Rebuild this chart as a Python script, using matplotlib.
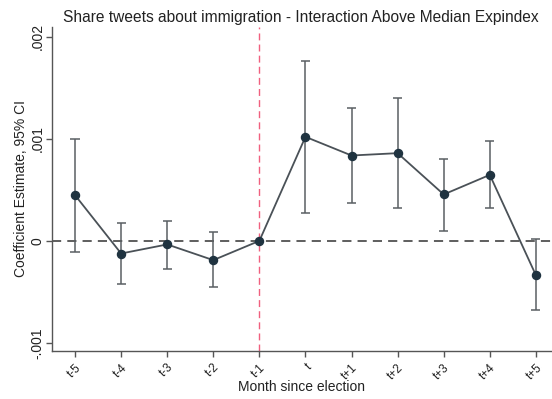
import matplotlib
matplotlib.use("Agg")
import matplotlib.pyplot as plt
import numpy as np

plt.rcParams['font.family'] = ['Liberation Sans', 'DejaVu Sans']

# Event-study coefficients by month relative to the election
months = ["t-5", "t-4", "t-3", "t-2", "t-1", "t", "t+1", "t+2", "t+3", "t+4", "t+5"]
coef = [0.000448, -0.000124, -0.000035, -0.000189, 0.0, 0.00102, 0.000837, 0.00086, 0.000455, 0.000647, -0.000336]
ci_low = [-0.000108, -0.000425, -0.00028, -0.000454, np.nan, 0.000269, 0.000373, 0.000324, 0.000098, 0.000324, -0.00068]
ci_high = [0.000997, 0.000171, 0.000193, 0.000082, np.nan, 0.00176, 0.0013, 0.0014, 0.000798, 0.000975, 0.000014]
yticks = [-0.001, 0, 0.001, 0.002]
ytick_labels = ["-.001", "0", ".001", ".002"]

x = np.arange(len(months))
coef = np.array(coef)
lo = np.array(ci_low)
hi = np.array(ci_high)

fig = plt.figure(figsize=(5.52, 3.99), dpi=100)
ax = fig.add_axes([52/552, 1-351/399, 1-52/552, (351-26.7)/399])

# reference lines
ax.axhline(0, color="#333333", lw=1.1, ls=(0, (6, 4)), zorder=1)
ax.axvline(4, color="#f0607f", lw=1.0, ls=(0, (5, 3)), zorder=1)

# confidence intervals
mask = ~np.isnan(lo)
ax.vlines(x[mask], lo[mask], hi[mask], color="#5a5f63", lw=1.1, zorder=2)
ax.hlines(lo[mask], x[mask]-0.1, x[mask]+0.1, color="#5a5f63", lw=1.1, zorder=2)
ax.hlines(hi[mask], x[mask]-0.1, x[mask]+0.1, color="#5a5f63", lw=1.1, zorder=2)

# point estimates
ax.plot(x, coef, color="#4a5157", lw=1.3, marker="o", ms=5.8,
        mfc="#1f3340", mec="#1f3340", zorder=3)

ax.set_xlim(-0.5, 10.35)
ax.set_ylim(-0.00108, 0.0021)
ax.set_yticks(yticks)
ax.set_yticklabels(ytick_labels, rotation=90, va="center", fontsize=10)
ax.set_xticks(x)
ax.set_xticklabels(months, rotation=45, ha="right", va="top", rotation_mode="anchor", fontsize=8.5)

for s in ["top", "right"]:
    ax.spines[s].set_visible(False)
for s in ["left", "bottom"]:
    ax.spines[s].set_color("#555555")
    ax.spines[s].set_linewidth(1.0)
ax.tick_params(axis="both", colors="#555555", length=4, width=1.0, labelcolor="#222222")
ax.tick_params(axis="y", pad=1.5)

ax.set_ylabel("Coefficient Estimate, 95% CI", fontsize=10, color="#222222", labelpad=2)
ax.set_xlabel("Month since election", fontsize=10, color="#222222", labelpad=-1)
fig.text(0.545, 0.955, "Share tweets about immigration - Interaction Above Median Expindex",
         ha="center", va="center", fontsize=11.2, color="#222222")

fig.savefig("out.png", dpi=100, facecolor="white")
